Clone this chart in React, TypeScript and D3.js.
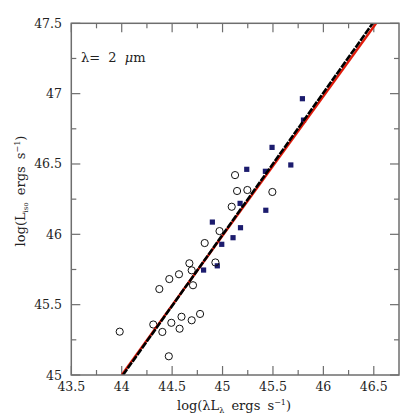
import React from "react";
import { scaleLinear, range, line } from "d3";

const width = 420;
const height = 420;
const left = 71.3;
const right = 399;
const top = 23.3;
const bottom = 375;

// open circles
const circleX = [
  45.124, 45.144, 45.246, 45.494, 45.091, 44.97, 44.823, 44.671, 44.929, 44.694,
  44.568, 44.472, 44.373, 44.707, 43.98, 44.313, 44.403, 44.492, 44.593, 44.574,
  44.694, 44.777, 44.467,
];
const circleY = [
  46.421, 46.308, 46.315, 46.301, 46.196, 46.023, 45.938, 45.794, 45.8, 45.744,
  45.716, 45.682, 45.611, 45.638, 45.308, 45.359, 45.306, 45.371, 45.414, 45.329,
  45.389, 45.434, 45.133,
];

// filled squares
const squareX = [
  45.792, 45.803, 45.491, 45.24, 45.425, 45.677, 45.174, 45.429, 44.899, 45.178,
  45.104, 44.992, 44.812, 44.948,
];
const squareY = [
  46.964, 46.812, 46.618, 46.462, 46.448, 46.493, 46.22, 46.171, 46.087, 46.047,
  45.976, 45.929, 45.746, 45.776,
];

// fits: [slope, intercept]
const redFit = [0.9909, 1.4];
const blackFit = [1.0093, 0.578];

const xTicks = [43.5, 44, 44.5, 45, 45.5, 46, 46.5];
const yTicks = [45, 45.5, 46, 46.5, 47, 47.5];
const xMinor = range(43.75, 46.75, 0.5);
const yMinor = range(45.25, 47.5, 0.5);

const x = scaleLinear().domain([43.5, 46.75]).range([left, right]);
const y = scaleLinear().domain([45, 47.5]).range([bottom, top]);

const fitPath = (fit: number[]) => {
  const [m, b] = fit;
  const x0 = (45 - b) / m;
  const x1 = (47.5 - b) / m;
  return line<number>()
    .x((d) => x(d))
    .y((d) => y(m * d + b))([x0, x1]);
};

const axisColor = "#6e6e6e";
const font = "DejaVu Serif";

const fmt = (d: number) => String(d);

const App = () => (
  <svg
    width={width}
    height={height}
    style={{ position: "absolute", left: 0, top: 0, background: "#fff" }}
  >
    {/* ticks */}
    {xTicks.map((d) => (
      <g key={"xt" + d}>
        <line x1={x(d)} x2={x(d)} y1={bottom} y2={bottom - 9} stroke={axisColor} strokeWidth={1.2} />
        <line x1={x(d)} x2={x(d)} y1={top} y2={top + 9} stroke={axisColor} strokeWidth={1.2} />
        <text x={x(d)} y={391} textAnchor="middle" fontFamily={font} fontSize={12.5} fill="#222">
          {fmt(d)}
        </text>
      </g>
    ))}
    {xMinor.map((d) => (
      <g key={"xm" + d}>
        <line x1={x(d)} x2={x(d)} y1={bottom} y2={bottom - 5} stroke={axisColor} strokeWidth={1.2} />
        <line x1={x(d)} x2={x(d)} y1={top} y2={top + 5} stroke={axisColor} strokeWidth={1.2} />
      </g>
    ))}
    {yTicks.map((d) => (
      <g key={"yt" + d}>
        <line x1={left} x2={left + 9} y1={y(d)} y2={y(d)} stroke={axisColor} strokeWidth={1.2} />
        <line x1={right} x2={right - 9} y1={y(d)} y2={y(d)} stroke={axisColor} strokeWidth={1.2} />
        <text x={62} y={y(d) + 4.5} textAnchor="end" fontFamily={font} fontSize={12.5} fill="#222">
          {fmt(d)}
        </text>
      </g>
    ))}
    {yMinor.map((d) => (
      <g key={"ym" + d}>
        <line x1={left} x2={left + 5} y1={y(d)} y2={y(d)} stroke={axisColor} strokeWidth={1.2} />
        <line x1={right} x2={right - 5} y1={y(d)} y2={y(d)} stroke={axisColor} strokeWidth={1.2} />
      </g>
    ))}

    {/* points */}
    {squareX.map((d, i) => (
      <rect
        key={"s" + i}
        x={x(d) - 2.6}
        y={y(squareY[i]) - 2.6}
        width={5.2}
        height={5.2}
        fill="#1c1c6e"
      />
    ))}
    {circleX.map((d, i) => (
      <circle
        key={"c" + i}
        cx={x(d)}
        cy={y(circleY[i])}
        r={3.6}
        fill="none"
        stroke="#111"
        strokeWidth={1}
      />
    ))}

    {/* fits */}
    <clipPath id="plotClip">
      <rect x={left} y={top} width={right - left} height={bottom - top} />
    </clipPath>
    <g clipPath="url(#plotClip)">
      <path d={fitPath(redFit) || ""} fill="none" stroke="#e01a0a" strokeWidth={2.4} />
      <path
        d={fitPath(blackFit) || ""}
        fill="none"
        stroke="#000"
        strokeWidth={2.6}
        strokeDasharray="7,1.2"
      />
    </g>

    {/* frame */}
    <rect
      x={left}
      y={top}
      width={right - left}
      height={bottom - top}
      fill="none"
      stroke={axisColor}
      strokeWidth={1.5}
    />

    <text x={81} y={62} fontFamily={font} fontSize={13} fill="#222" wordSpacing={4}>
      λ= 2 <tspan fontStyle="italic">μ</tspan>m
    </text>

    <text
      x={234}
      y={410}
      textAnchor="middle"
      fontFamily={font}
      fontSize={13}
      fill="#222"
      wordSpacing={3}
    >
      log(λL
      <tspan fontSize={8} dy={3}>λ</tspan>
      <tspan dy={-3}> ergs s</tspan>
      <tspan fontSize={8} dy={-5}>−1</tspan>
      <tspan dy={5}>)</tspan>
    </text>

    <text
      transform="translate(25, 191) rotate(-90)"
      textAnchor="middle"
      fontFamily={font}
      fontSize={13}
      fill="#222"
      wordSpacing={3}
    >
      log(L
      <tspan fontSize={7} dy={3}>iso</tspan>
      <tspan dy={-3}> ergs s</tspan>
      <tspan fontSize={8} dy={-5}>−1</tspan>
      <tspan dy={5}>)</tspan>
    </text>
  </svg>
);

export default App;
